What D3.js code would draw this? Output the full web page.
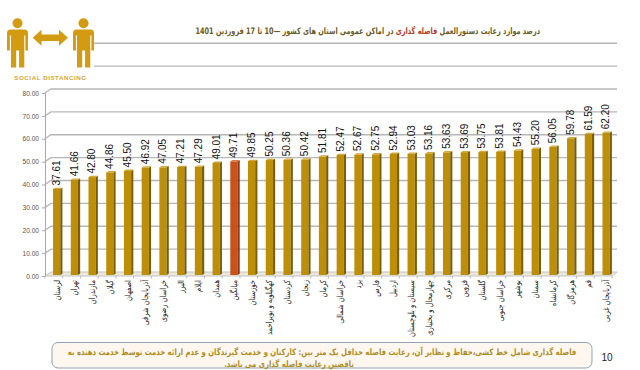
<!DOCTYPE html>
<html><head><meta charset="utf-8">
<script src="https://cdn.jsdelivr.net/npm/d3@7/dist/d3.min.js"></script>
<style>html,body{margin:0;padding:0;background:#fff}svg{display:block}</style>
</head><body><svg id="c" width="640" height="370"></svg>
<script>
const categories = ["لرستان","تهران","مازندران","گیلان","اصفهان","آذربایجان شرقی","خراسان رضوی","البرز","ایلام","همدان","میانگین","خوزستان","کهگیلویه و بویراحمد","کردستان","زنجان","کرمان","خراسان شمالی","یزد","فارس","اردبیل","سیستان و بلوچستان","چهارمحال و بختیاری","مرکزی","قزوین","گلستان","خراسان جنوبی","بوشهر","سمنان","کرمانشاه","هرمزگان","قم","آذربایجان غربی"];
const values = [37.61,41.66,42.80,44.86,45.50,46.92,47.05,47.21,47.29,49.01,49.71,49.85,50.25,50.36,50.42,51.81,52.47,52.67,52.75,52.94,53.03,53.16,53.63,53.69,53.75,53.81,54.43,55.20,56.05,59.78,61.59,62.20];
const highlighted = ["میانگین"];
const yTicks = [0,10,20,30,40,50,60,70,80];
const upperGrid = [90,100];
const titleParts = [["درصد موارد رعایت دستورالعمل ","#6b5a1e"],["فاصله گذاری ","#b5391f"],["در اماکن عمومی استان های کشور —10 تا 17 فروردین 1401","#6b5a1e"]];
const noteLines = ["فاصله گذاری شامل خط کشی،حفاظ و نظایر آن، رعایت فاصله حداقل یک متر بین: کارکنان  و خدمت گیرندگان و عدم ارائه خدمت توسط خدمت دهنده به","ناقضین رعایت فاصله گذاری می باشد."];
const pageNumber = "10";
const iconCaption = "SOCIAL DISTANCING";

const svg = d3.select("#c");
const y = d3.scaleLinear().domain([0,80]).range([276,93]);
const x = d3.scaleBand().domain(categories).range([45,612]).paddingInner(0.5).paddingOuter(0.245);
const DX=6, DY=-4, sideW=2.2;
const AR = "'DejaVu Sans',sans-serif", LA = "'Liberation Sans',Arial,sans-serif";

const gridG = svg.append("g");
yTicks.slice(1).forEach(v=>{
  gridG.append("path").attr("d",`M45,${y(v)}L${45+DX},${y(v)+DY}H617`).attr("fill","none").attr("stroke","#b6b6b6").attr("stroke-width",1.3);
});
upperGrid.forEach(v=>{
  gridG.append("line").attr("x1",94).attr("x2",617).attr("y1",y(v)+DY).attr("y2",y(v)+DY).attr("stroke","#b6b6b6").attr("stroke-width",1.3);
});
svg.append("path").attr("d",`M45,${y(0)}L${45+DX},${y(0)+DY}H617L612,${y(0)}Z`).attr("fill","#ece8dc").attr("stroke","#c4c4c4").attr("stroke-width",1);

const axis = d3.axisLeft(y).tickValues(yTicks).tickFormat(d3.format(".2f")).tickSize(3).tickPadding(3);
const ag = svg.append("g").attr("transform","translate(45,0)").call(axis);
ag.selectAll("path,line").attr("stroke","#a8a8a8");
ag.selectAll("text").attr("font-family",LA).attr("font-size",6.6).attr("fill","#555");

svg.append("g").selectAll("line").data(d3.range(categories.length+1)).join("line")
  .attr("x1",i=>45+i*567/categories.length).attr("x2",i=>45+i*567/categories.length)
  .attr("y1",y(0)).attr("y2",y(0)+2.5).attr("stroke","#bbb");

const bars = svg.append("g").selectAll("g").data(categories.map((c,i)=>({c,v:values[i]}))).join("g");
const col = d=>highlighted.includes(d.c)?["#c8521c","#8a3510","#dc7a45"]:["#bd8f08","#7a5f06","#d0a836"];
const bw=7.2;
const bx = d=>x(d.c)+3.7;
bars.append("rect").attr("x",bx).attr("y",d=>y(d.v)-1).attr("width",bw).attr("height",d=>y(0)-y(d.v)).attr("fill",d=>col(d)[0]);
bars.append("path").attr("d",d=>`M${bx(d)+bw},${y(d.v)-1}l${sideW},-1.3V${y(0)-2.3}l${-sideW},1.3Z`).attr("fill",d=>col(d)[1]);
bars.append("path").attr("d",d=>`M${bx(d)},${y(d.v)-1}l${sideW},-1.3h${bw}l${-sideW},1.3Z`).attr("fill",d=>col(d)[2]);
bars.append("text").attr("transform",d=>`translate(${bx(d)+bw/2+3.4},${y(d.v)-4.5}) rotate(-90)`)
  .text(d=>d.v.toFixed(2)).attr("font-family",LA).attr("font-size",10).attr("fill","#111");
bars.append("text").attr("transform",d=>`translate(${bx(d)+bw/2+3},280) rotate(-90) scale(.91,1.15)`)
  .text(d=>d.c).attr("font-family",AR).attr("font-size",7.4).attr("fill","#222").attr("direction","rtl").attr("text-anchor","start");

const t = svg.append("text").attr("transform","translate(540,33.5) scale(.76,1.05)").attr("direction","rtl").attr("text-anchor","start").attr("font-family",AR).attr("font-weight","bold").attr("font-size",8.6);
titleParts.forEach(p=>t.append("tspan").text(p[0]).attr("fill",p[1]));

const gold="#d39b12";
function person(g,cx){
  g.append("circle").attr("cx",cx).attr("cy",23.3).attr("r",5).attr("fill",gold);
  g.append("path").attr("fill",gold).attr("d",`M${cx-10.5},33q0,-3.5 3.5,-3.5h14q3.5,0 3.5,3.5v17.5h-2.6v-15h-1.1v32h-5.2v-17h-2.9v17h-5.2v-32h-1.1v15h-2.9Z`);
}
const ic=svg.append("g");
person(ic,17.5); person(ic,83.5);
ic.append("path").attr("fill",gold).attr("d","M32.7,37.7L41.5,29.7V34.5H59V29.7L68,37.7L59,45.7V41H41.5V45.7Z");
svg.append("text").attr("x",50.5).attr("y",79.5).attr("text-anchor","middle").text(iconCaption).attr("font-family",LA).attr("font-weight","bold").attr("font-size",6.2).attr("letter-spacing",0.55).attr("fill","#d8a533");

svg.append("rect").attr("x",52).attr("y",342.5).attr("width",540).attr("height",25.5).attr("rx",6).attr("fill","#fdf7ef").attr("stroke","#8ea3b6").attr("stroke-width",1);
svg.append("g").selectAll("text").data(noteLines).join("text")
  .attr("transform",(d,i)=>`translate(${i?289:322},${354.5+i*12}) scale(.82,1.05)`).attr("text-anchor","middle").attr("direction","rtl")
  .attr("font-family",AR).attr("font-size",8.4).attr("font-weight","bold").attr("fill","#ad8d1e").text(d=>d);
svg.append("text").attr("x",607).attr("y",361).attr("text-anchor","middle").text(pageNumber).attr("font-family",LA).attr("font-size",10).attr("fill","#222");
</script></body></html>
